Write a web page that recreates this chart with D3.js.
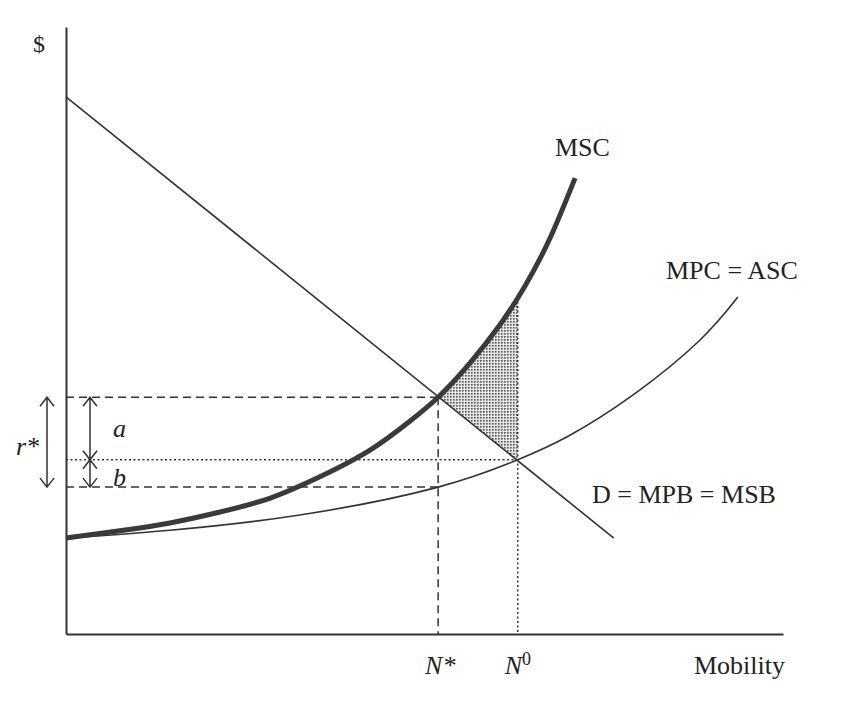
<!DOCTYPE html>
<html>
<head>
<meta charset="utf-8">
<script src="https://cdn.jsdelivr.net/npm/d3@7"></script>
<style>
  body { margin: 0; background: #fff; }
  svg text { font-family: "Liberation Serif", "DejaVu Serif", serif; fill: #222; }
  .it { font-style: italic; }
</style>
</head>
<body>
<div id="chart"></div>
<script>
// curves (x = mobility, y = $), both on a 0-100 scale
var mscX = [0, 7.5, 14.5, 21.5, 28.5, 35.4, 42.4, 48.0, 51.9, 56.3, 60.5, 64.0, 67.5, 71.0];
var mscY = [15.8, 17.0, 18.3, 20.1, 22.4, 25.9, 30.3, 35.1, 39.0, 44.6, 50.9, 57.3, 65.2, 75.1];
var mpcX = [0, 14.5, 32.6, 51.9, 63.0, 69.9, 79.1, 88.4, 93.7];
var mpcY = [15.8, 17.1, 19.6, 24.2, 28.7, 32.5, 39.4, 48.4, 55.5];
var demandX = [0, 76.4];
var demandY = [88.5, 15.8];

// N*, N0 on the mobility axis
var quantityMarks = [51.9, 63.0];
// r* level, MPC at N0, MPC at N*, MSC at N0
var priceMarks = [39.0, 28.7, 24.2, 55.5];

var curveLabels = ["MSC", "MPC = ASC", "D = MPB = MSB"];
var axisLabels = ["$", "Mobility"];

var width = 857, height = 719;
var ink = "#333";

var svg = d3.select("#chart").append("svg")
  .attr("width", width)
  .attr("height", height);

var x = d3.scaleLinear().domain([0, 100]).range([66, 783]);
var y = d3.scaleLinear().domain([0, 100]).range([634, 27]);

var msc = mscX.map((v, i) => ({x: v, y: mscY[i]}));
var mpc = mpcX.map((v, i) => ({x: v, y: mpcY[i]}));
var demand = demandX.map((v, i) => ({x: v, y: demandY[i]}));
var demandAt = d3.scaleLinear().domain(demandX).range(demandY);

var nStar = quantityMarks[0], nZero = quantityMarks[1];
var rTop = priceMarks[0], rMid = priceMarks[1], rLow = priceMarks[2], mscAtN0 = priceMarks[3];

var smooth = d3.curveNatural;

// stipple pattern for the deadweight triangle
var defs = svg.append("defs");
var pat = defs.append("pattern")
  .attr("id", "dots")
  .attr("width", 3)
  .attr("height", 3)
  .attr("patternUnits", "userSpaceOnUse");
pat.append("rect").attr("width", 3).attr("height", 3).attr("fill", "#e4e4e4");
pat.append("rect").attr("width", 1.6).attr("height", 1.6).attr("fill", "#555");

defs.append("clipPath")
  .attr("id", "triClip")
.append("rect")
  .attr("x", x(nStar))
  .attr("y", 0)
  .attr("width", x(nZero) - x(nStar))
  .attr("height", height);

var area = d3.area()
  .x(d => x(d.x))
  .y0(d => y(demandAt(d.x)))
  .y1(d => y(d.y))
  .curve(smooth);

svg.append("path")
  .datum(msc)
  .attr("d", area)
  .attr("clip-path", "url(#triClip)")
  .attr("fill", "url(#dots)");

// axes, no ticks
svg.append("g")
  .attr("transform", `translate(0,${y(0)})`)
  .call(d3.axisBottom(x).tickValues([]).tickSizeOuter(0))
  .call(g => g.select(".domain").attr("stroke", ink).attr("stroke-width", 2));
svg.append("g")
  .attr("transform", `translate(${x(0)},0)`)
  .call(d3.axisLeft(y).tickValues([]).tickSizeOuter(0))
  .call(g => g.select(".domain").attr("stroke", ink).attr("stroke-width", 2));

// guide lines
var dashed = "8,5", dotted = "2,2.5";
function guide(x1, y1, x2, y2, dash) {
  svg.append("line")
    .attr("x1", x(x1)).attr("y1", y(y1))
    .attr("x2", x(x2)).attr("y2", y(y2))
    .attr("stroke", ink)
    .attr("stroke-width", 1.5)
    .attr("stroke-dasharray", dash);
}
guide(0, rTop, nStar, rTop, dashed);
guide(nStar, rTop, nStar, 0, dashed);
guide(0, rLow, nStar, rLow, dashed);
guide(0, rMid, nZero, rMid, dotted);
guide(nZero, mscAtN0, nZero, 0, dotted);

// curves
var line = d3.line().x(d => x(d.x)).y(d => y(d.y)).curve(smooth);

svg.append("path")
  .datum(demand)
  .attr("d", line)
  .attr("fill", "none")
  .attr("stroke", ink)
  .attr("stroke-width", 1.6);

svg.append("path")
  .datum(mpc)
  .attr("d", line)
  .attr("fill", "none")
  .attr("stroke", ink)
  .attr("stroke-width", 1.6);

svg.append("path")
  .datum(msc)
  .attr("d", line)
  .attr("fill", "none")
  .attr("stroke", "#3a3a3a")
  .attr("stroke-width", 5);

// double arrows: r* and a / b
function arrow(px, yFrom, yTo, headTop, headBottom) {
  var p = d3.path();
  var top = y(yFrom), bot = y(yTo);
  p.moveTo(px, top); p.lineTo(px, bot);
  if (headTop) {
    p.moveTo(px - 7, top + 9); p.lineTo(px, top); p.lineTo(px + 7, top + 9);
  }
  if (headBottom) {
    p.moveTo(px - 7, bot - 9); p.lineTo(px, bot); p.lineTo(px + 7, bot - 9);
  }
  svg.append("path")
    .attr("d", p.toString())
    .attr("fill", "none")
    .attr("stroke", ink)
    .attr("stroke-width", 1.5);
}
arrow(47, rTop, rLow, true, true);
arrow(90, rTop, rMid, true, true);
arrow(90, rMid, rLow, true, true);

// labels
function label(txt, px, py, size, cls) {
  return svg.append("text")
    .attr("x", px)
    .attr("y", py)
    .attr("font-size", size)
    .attr("class", cls || null)
    .text(txt);
}
label(axisLabels[0], 33, 52, 24);
label(axisLabels[1], 785, 674, 26).attr("text-anchor", "end");
label(curveLabels[0], 555, 156, 26);
label(curveLabels[1], 666, 279, 26);
label(curveLabels[2], 592, 503, 26);

label("N*", x(nStar) - 13, 674, 26, "it");
var n0 = label("N", x(nZero) - 13, 674, 26, "it");
n0.append("tspan")
  .style("font-style", "normal")
  .attr("font-size", 18)
  .attr("dy", -9)
  .text("0");

label("r*", 16, 455, 26, "it");
label("a", 113, 437, 26, "it");
label("b", 113, 486, 26, "it");
</script>
</body>
</html>
